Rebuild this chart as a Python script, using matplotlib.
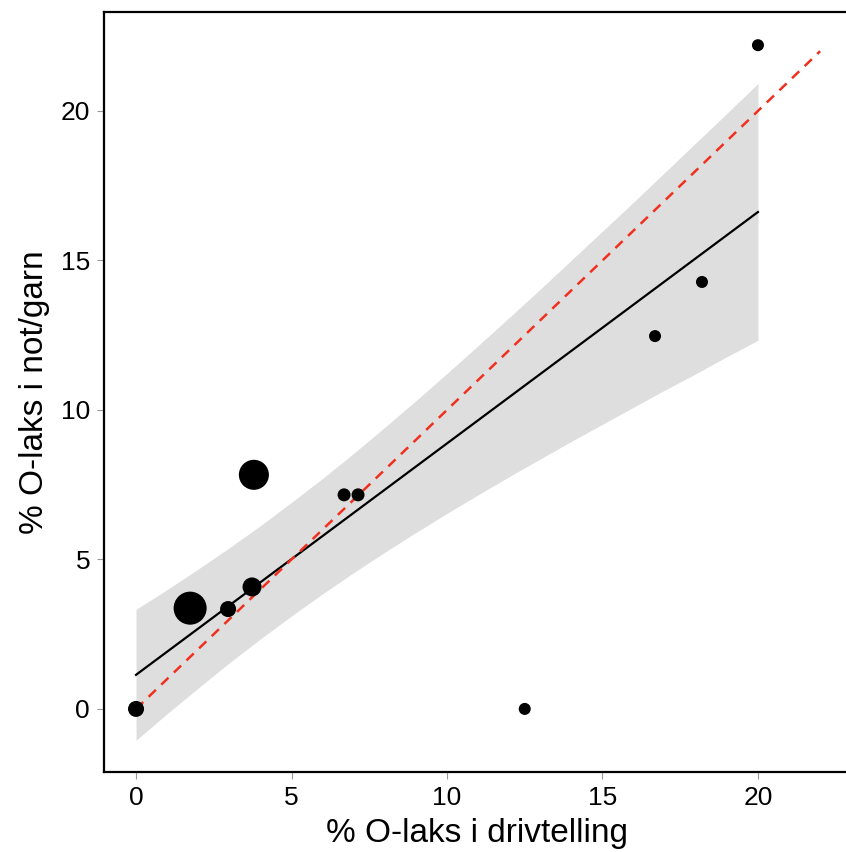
import numpy as np
import matplotlib
matplotlib.use("Agg")
import matplotlib.pyplot as plt

plt.rcParams['font.family'] = ['Liberation Sans', 'DejaVu Sans']

# observed points (% O-laks)
drift = [0.0, 1.74, 2.96, 3.73, 3.79, 6.69, 7.14, 12.5, 16.69, 18.2, 20.0]
net = [0.0, 3.37, 3.34, 4.08, 7.83, 7.16, 7.16, 0.0, 12.47, 14.28, 22.2]
weight = [64, 272, 64, 90, 225, 42, 42, 36, 36, 36, 36]

# fitted line and confidence band
fit_x = [0, 20]
fit_y = [1.14, 16.62]
band_x = list(range(0, 21))
band_lo = [-1.05, -0.16, 0.70, 1.54, 2.34, 3.11, 3.85, 4.56, 5.24, 5.90, 6.54,
           7.16, 7.77, 8.36, 8.95, 9.52, 10.09, 10.66, 11.21, 11.78, 12.33]
band_hi = [3.33, 3.99, 4.68, 5.39, 6.13, 6.91, 7.71, 8.55, 9.42, 10.31, 11.22,
           12.15, 13.09, 14.04, 15.01, 15.98, 16.95, 17.94, 18.93, 19.92, 20.92]

# 1:1 reference
ref = [0, 22]

fig = plt.figure(figsize=(8.46, 8.52), dpi=100)
ax = fig.add_axes([104/846, 80/852, 746/846, 760/852])

ax.fill_between(band_x, band_lo, band_hi, color='#dedede', lw=0, zorder=1)
ax.plot(fit_x, fit_y, color='black', lw=1.6, zorder=2)
ax.plot(ref, ref, color='#f0301e', lw=1.8, ls=(0, (4, 3)), zorder=3)
ax.scatter(drift, net, s=np.array(weight) * 2.08, color='black', lw=0, zorder=4)

ax.set_xlim(-1.03, 22.96)
ax.set_ylim(-2.11, 23.31)
ax.set_xticks([0, 5, 10, 15, 20])
ax.set_yticks([0, 5, 10, 15, 20])
ax.tick_params(direction='out', length=5, width=0.8, color='#999999',
               labelsize=19, pad=5)

for side in ['left', 'bottom', 'top']:
    ax.spines[side].set_linewidth(1.6)
ax.spines['right'].set_visible(False)

ax.set_xlabel('% O-laks i drivtelling', fontsize=24, labelpad=6)
ax.set_ylabel('% O-laks i not/garn', fontsize=24, labelpad=8)

fig.savefig('out.png', dpi=100)
